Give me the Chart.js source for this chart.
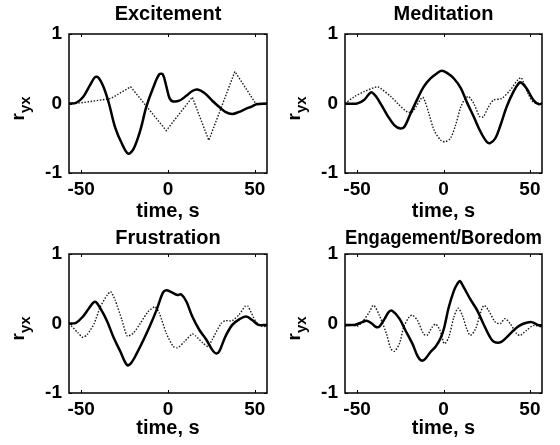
<!DOCTYPE html>
<html>
<head>
<meta charset="utf-8">
<script src="https://cdn.jsdelivr.net/npm/chart.js@4.4.1/dist/chart.umd.min.js"></script>
<style>
  body { margin: 0; background: #fff; }
  #fig { position: relative; width: 560px; height: 445px; }
  #fig canvas { position: absolute; }
</style>
</head>
<body>
<div id="fig">
  <canvas id="exc" width="280" height="225" style="left:0;top:0"></canvas>
  <canvas id="med" width="280" height="225" style="left:280px;top:0"></canvas>
  <canvas id="fru" width="280" height="225" style="left:0;top:220px"></canvas>
  <canvas id="eng" width="280" height="225" style="left:280px;top:220px"></canvas>
</div>
<script>
// cross-correlation r_yx against lag (s); solid = first signal, dotted = second
const xTicks = [-50, 0, 50]
const yTicks = [-1, 0, 1]

const excSolidLag = [-57,-53,-49,-45,-42,-40,-37,-34,-30.5,-26.5,-23,-20,-16,-12.5,-8.5,-5,-3,-1,1,3,6.5,10.5,14,17,21,25.5,29.5,33,37,41,44.5,48.5,51,57]
const excSolidR   = [0,0.01,0.09,0.26,0.38,0.37,0.23,0,-0.34,-0.58,-0.72,-0.66,-0.39,-0.05,0.23,0.42,0.42,0.25,0.07,0.03,0.04,0.11,0.18,0.2,0.15,0.04,-0.05,-0.12,-0.15,-0.12,-0.08,-0.04,-0.01,0]
const excDotLag   = [-57,-50,-33,-21.5,-1,14,23.5,38.5,50.5,57]
const excDotR     = [0,0.01,0.07,0.24,-0.39,0.09,-0.53,0.46,0,0]

const medSolidLag = [-57,-50,-46,-43,-41.5,-39,-36,-32.5,-28.5,-25,-22.5,-19,-15,-11.5,-7.5,-3.5,-1,2,6,10,13.5,17.5,21.5,25,27,30,33,36.5,40.5,43.5,45,48,52,55,57]
const medSolidR   = [0,0,0.05,0.14,0.16,0.1,-0.02,-0.17,-0.31,-0.36,-0.33,-0.14,0.07,0.24,0.36,0.44,0.47,0.44,0.36,0.22,0.02,-0.19,-0.41,-0.55,-0.57,-0.5,-0.31,-0.05,0.17,0.29,0.3,0.22,0.05,-0.01,0]
const medDotLag   = [-57,-51.5,-46,-40,-38,-36,-30.5,-26.5,-21,-18,-16,-13,-12,-11,-8.5,-5.5,-1.5,1,4,7,10,12.5,14.5,17.5,21,23,26,29,33.5,38.5,43,45,49,52,57]
const medDotR     = [0,0.1,0.17,0.23,0.24,0.21,0.1,0,-0.12,-0.12,-0.05,0.07,0.09,0.05,-0.14,-0.38,-0.53,-0.55,-0.5,-0.31,-0.05,0.07,0.1,0,-0.19,-0.19,-0.05,0.05,0.07,0.19,0.34,0.37,0.14,0.02,0]

const fruSolidLag = [-57,-53,-49,-45.5,-43,-41.5,-39,-35,-31.5,-27.5,-23.5,-21,-18,-14,-10.5,-6.5,-3,-1,2,5.5,7.5,10.5,14,18,22,25.5,27.5,29.5,33,37,41,45,48.5,52,57]
const fruSolidR   = [0,0.01,0.1,0.22,0.3,0.31,0.22,0.03,-0.19,-0.4,-0.6,-0.56,-0.43,-0.23,-0.04,0.2,0.44,0.48,0.45,0.41,0.42,0.32,0.1,-0.09,-0.23,-0.38,-0.43,-0.4,-0.19,-0.02,0.06,0.1,0.05,-0.02,-0.02]
const fruDotLag   = [-57,-52,-49,-46.5,-42.5,-39,-35,-33,-30.5,-26.5,-23.5,-20,-16,-11.5,-7.5,-5,-1,3,5.5,9.5,14,16,20,23,25.5,30.5,33,37,41,44.5,46,50.5,54,57]
const fruDotR     = [0,-0.13,-0.2,-0.16,0,0.24,0.41,0.46,0.34,0.05,-0.18,-0.14,0,0.17,0.24,0.15,-0.14,-0.33,-0.35,-0.26,-0.15,-0.18,-0.28,-0.33,-0.23,0,0.04,0.04,0.13,0.25,0.25,0.03,-0.04,-0.04]

const engSolidLag = [-57,-51.5,-47,-44.5,-41.5,-39,-37,-34,-31.5,-29.5,-25.5,-22,-18,-15,-13,-11,-7.5,-4.5,-1.5,0.5,3,6,8,9.5,11.5,15.5,19.5,23,27,29,33,36.5,40.5,44,48,51,54.5,57]
const engSolidR   = [-0.02,-0.02,0.02,0.04,0,-0.05,-0.04,0.07,0.17,0.18,0.07,-0.1,-0.29,-0.47,-0.53,-0.52,-0.41,-0.33,-0.2,-0.05,0.23,0.47,0.57,0.61,0.53,0.35,0.19,0,-0.2,-0.26,-0.27,-0.2,-0.1,-0.03,0.01,0.02,-0.02,-0.04]
const engDotLag   = [-57,-52.5,-50,-46.5,-43,-40.5,-37,-33,-30.5,-28.5,-25.5,-23,-20,-18,-15,-11.5,-9.5,-6.5,-4.5,-2,0.5,3,6,8.5,11,13.5,15.5,18.5,21.5,23.5,26,30,33,35.5,38.5,42.5,44.5,48,52,57]
const engDotR     = [-0.04,-0.02,-0.04,0.04,0.16,0.26,0.11,-0.15,-0.36,-0.4,-0.29,-0.05,0.09,0.12,0.04,-0.15,-0.17,-0.05,-0.01,-0.1,-0.29,-0.2,0.09,0.22,0.11,-0.08,-0.17,-0.08,0.16,0.26,0.19,0.02,0,0.07,0,-0.15,-0.17,-0.1,-0.03,-0.05]

const FONT = 'Liberation Sans, Arial, sans-serif'
Chart.defaults.font.family = FONT
Chart.defaults.font.weight = 'bold'
Chart.defaults.font.size = 19
Chart.defaults.color = '#000'

const pts = (lag, r) => lag.map((t, i) => ({x: t, y: r[i]}))

// box round the axes, inward ticks on all four sides, and the r_yx label
const frame = {
  id: 'frame',
  afterDraw(chart) {
    const {ctx, chartArea: a, scales: {x, y}} = chart
    ctx.save()
    ctx.strokeStyle = '#000'
    ctx.lineWidth = 1.5
    ctx.strokeRect(a.left, a.top, a.right - a.left, a.bottom - a.top)
    ctx.lineWidth = 1
    ctx.beginPath()
    xTicks.forEach(v => {
      const px = Math.round(x.getPixelForValue(v)) + 0.5
      ctx.moveTo(px, a.bottom); ctx.lineTo(px, a.bottom - 3)
      ctx.moveTo(px, a.top); ctx.lineTo(px, a.top + 3)
    })
    yTicks.forEach(v => {
      const py = Math.round(y.getPixelForValue(v)) + 0.5
      ctx.moveTo(a.left, py); ctx.lineTo(a.left + 3, py)
      ctx.moveTo(a.right, py); ctx.lineTo(a.right - 3, py)
    })
    ctx.stroke()

    ctx.translate(a.left - 45, (a.top + a.bottom) / 2 + 17)
    ctx.rotate(-Math.PI / 2)
    ctx.fillStyle = '#000'
    ctx.textAlign = 'left'
    ctx.textBaseline = 'alphabetic'
    ctx.font = 'bold 19px ' + FONT
    ctx.fillText('r', 0, 0)
    const w = ctx.measureText('r').width
    ctx.font = 'bold 15px ' + FONT
    ctx.fillText('yx', w, 6)
    ctx.restore()
  }
}

function panel(id, title, solid, dotted, dotTension, opts) {
  return new Chart(document.getElementById(id), {
    type: 'line',
    data: {
      datasets: [
        {data: solid, borderColor: '#000', borderWidth: 2.5, tension: 0.35},
        {data: dotted, borderColor: '#1a1a1a', borderWidth: 1.4, borderDash: [1.5, 1.6], tension: dotTension}
      ]
    },
    options: {
      responsive: false,
      animation: false,
      events: [],
      elements: {point: {radius: 0}},
      layout: {padding: {left: 0, right: opts.padRight, top: 0, bottom: 225 - 173 - opts.xAxisH}},
      plugins: {
        legend: {display: false},
        tooltip: {enabled: false},
        title: {
          display: true,
          text: title,
          fullSize: false,
          font: {size: 20, weight: 'bold'},
          padding: {top: opts.titleTop, bottom: 34 - 24 - opts.titleTop}
        }
      },
      scales: {
        x: {
          type: 'linear',
          min: -57,
          max: 57,
          afterBuildTicks: s => { s.ticks = xTicks.map(v => ({value: v})) },
          afterFit: s => { s.height = opts.xAxisH },
          grid: {display: false, drawTicks: false},
          border: {display: false},
          ticks: {autoSkip: false, maxRotation: 0, padding: 5.6},
          title: {display: true, text: 'time, s', font: {size: 20, weight: 'bold'}, padding: {top: 0, bottom: 0}}
        },
        y: {
          min: -1,
          max: 1,
          afterBuildTicks: s => { s.ticks = yTicks.map(v => ({value: v})) },
          afterFit: s => { s.width = opts.plotLeft },
          grid: {display: false, drawTicks: false},
          border: {display: false},
          ticks: {padding: 7}
        }
      }
    },
    plugins: [frame]
  })
}

panel('exc', 'Excitement', pts(excSolidLag, excSolidR), pts(excDotLag, excDotR), 0,
  {plotLeft: 69, padRight: 13, xAxisH: 50, titleTop: 2})
panel('med', 'Meditation', pts(medSolidLag, medSolidR), pts(medDotLag, medDotR), 0.3,
  {plotLeft: 65, padRight: 18, xAxisH: 50, titleTop: 2})
panel('fru', 'Frustration', pts(fruSolidLag, fruSolidR), pts(fruDotLag, fruDotR), 0.2,
  {plotLeft: 69, padRight: 13, xAxisH: 47, titleTop: 6.5})
panel('eng', 'Engagement/Boredom', pts(engSolidLag, engSolidR), pts(engDotLag, engDotR), 0.3,
  {plotLeft: 65, padRight: 18, xAxisH: 47, titleTop: 6.5})
</script>
</body>
</html>
